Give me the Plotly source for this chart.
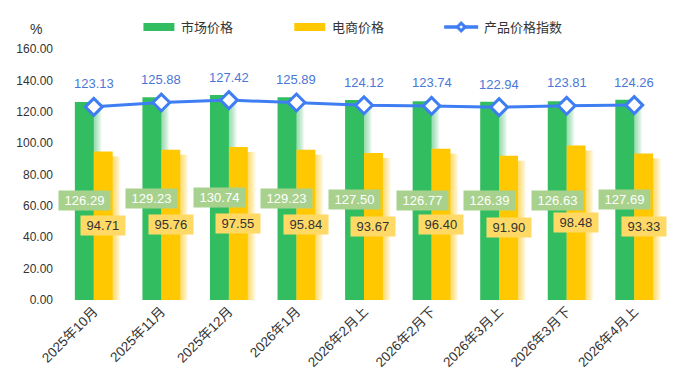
import plotly.graph_objects as go

categories = ["2025年10月", "2025年11月", "2025年12月", "2026年1月", "2026年2月上",
              "2026年2月下", "2026年3月上", "2026年3月下", "2026年4月上"]
market_price = [126.29, 129.23, 130.74, 129.23, 127.50, 126.77, 126.39, 126.63, 127.69]
ecommerce_price = [94.71, 95.76, 97.55, 95.84, 93.67, 96.40, 91.90, 98.48, 93.33]
price_index = [123.13, 125.88, 127.42, 125.89, 124.12, 123.74, 122.94, 123.81, 124.26]
y_ticks = [0, 20, 40, 60, 80, 100, 120, 140, 160]

OFF = 8  # page body margin
SW, SH = 681, 387
W, H = SW - OFF, SH - OFF
# plot area in screen pixels
PX0, PX1, PY0, PY1 = 59.5, 668, 49, 300
ML, MR, MT, MB = PX0 - OFF, SW - PX1, PY0 - OFF, SH - PY1
PW, PH = PX1 - PX0, PY1 - PY0

GREEN = "#32be60"
YELLOW = "#ffc800"
BLUE = "#3f7ef2"
FONT = "Liberation Sans, Arial, Noto Sans CJK SC, sans-serif"

x = list(range(len(categories)))
bw = 0.28
px_unit = 1.0 / (PW / len(categories))  # category units per pixel
dy = 5 * 160.0 / PH  # shadow vertical offset in data units

fig = go.Figure()

def shadow(values, base_offset, rgba):
    for k in range(1, 8):
        fig.add_trace(go.Bar(
            x=x, y=[max(v - dy, 0) for v in values], width=bw,
            offset=base_offset + k * 1.1 * px_unit,
            marker=dict(color=rgba, line=dict(width=0)),
            hoverinfo="skip", showlegend=False))

shadow(market_price, -bw, "rgba(50,190,96,0.09)")
fig.add_trace(go.Bar(x=x, y=market_price, width=bw, offset=-bw, name="市场价格",
                     marker=dict(color=GREEN, line=dict(width=0)), hoverinfo="skip"))
shadow(ecommerce_price, 0, "rgba(255,200,0,0.1)")
fig.add_trace(go.Bar(x=x, y=ecommerce_price, width=bw, offset=0, name="电商价格",
                     marker=dict(color=YELLOW, line=dict(width=0)), hoverinfo="skip"))
fig.add_trace(go.Scatter(x=x, y=price_index, mode="lines+markers", name="产品价格指数",
                         line=dict(color=BLUE, width=3),
                         marker=dict(symbol="diamond", size=13, color="white",
                                     line=dict(color=BLUE, width=3)),
                         hoverinfo="skip"))

ann = []
nb = "\u00a0"
for i in x:
    ann.append(dict(x=i - bw / 2, y=market_price[i] / 2, xref="x", yref="y",
                    text=nb + f"{market_price[i]:.2f}" + nb, showarrow=False,
                    font=dict(family=FONT, size=13, color="white"),
                    bgcolor="#a8d18d", borderpad=2))
    ann.append(dict(x=i + bw / 2, y=ecommerce_price[i] / 2, xref="x", yref="y",
                    text=nb + f"{ecommerce_price[i]:.2f}" + nb, showarrow=False,
                    font=dict(family=FONT, size=13, color="#333333"),
                    bgcolor="#ffd966", borderpad=2))
    ann.append(dict(x=i, y=price_index[i], xref="x", yref="y", yshift=23,
                    text=f"{price_index[i]:.2f}", showarrow=False,
                    font=dict(family=FONT, size=13, color="#4a78d8")))

def px_x(p):
    return (p - PX0) / PW

def px_y(p):
    return (PY1 - p) / PH

# unit label
ann.append(dict(x=px_x(27.5), y=px_y(19), xref="paper", yref="paper", text="%",
                showarrow=False, font=dict(family=FONT, size=14, color="#333333")))

shapes = []
legend_items = [("市场价格", GREEN, 143, "rect"), ("电商价格", YELLOW, 294, "rect"),
                ("产品价格指数", BLUE, 444, "line")]
ly = 27
for label, col, x0, kind in legend_items:
    if kind == "rect":
        shapes.append(dict(type="rect", xref="paper", yref="paper",
                           x0=px_x(x0), x1=px_x(x0 + 31), y0=px_y(ly - 4), y1=px_y(ly + 4),
                           fillcolor=col, line=dict(width=0)))
    else:
        shapes.append(dict(type="line", xref="paper", yref="paper",
                           x0=px_x(x0), x1=px_x(x0 + 34), y0=px_y(ly), y1=px_y(ly),
                           line=dict(color=col, width=3.5)))
        cx = x0 + 17
        r = 5.5
        path = (f"M {px_x(cx)} {px_y(ly - r)} L {px_x(cx + r)} {px_y(ly)} "
                f"L {px_x(cx)} {px_y(ly + r)} L {px_x(cx - r)} {px_y(ly)} Z")
        shapes.append(dict(type="path", xref="paper", yref="paper", path=path,
                           fillcolor=col, line=dict(color=col, width=1)))
        r2 = 1.8
        path2 = (f"M {px_x(cx)} {px_y(ly - r2)} L {px_x(cx + r2)} {px_y(ly)} "
                 f"L {px_x(cx)} {px_y(ly + r2)} L {px_x(cx - r2)} {px_y(ly)} Z")
        shapes.append(dict(type="path", xref="paper", yref="paper", path=path2,
                           fillcolor="white", line=dict(width=0)))
    tx = x0 + (36 if kind == "rect" else 38)
    ann.append(dict(x=px_x(tx), y=px_y(ly), xref="paper", yref="paper", text=label,
                    xanchor="left", yanchor="middle", showarrow=False,
                    font=dict(family=FONT, size=13, color="#333333")))

fig.update_layout(
    width=W, height=H,
    margin=dict(l=ML, r=MR, t=MT, b=MB, autoexpand=False),
    barmode="overlay",
    plot_bgcolor="white", paper_bgcolor="white",
    showlegend=False,
    font=dict(family=FONT, size=12, color="#333333"),
    xaxis=dict(range=[-0.5, len(categories) - 0.5], tickvals=x, ticktext=categories,
               tickangle=-45, showgrid=False, zeroline=False, showline=False,
               tickfont=dict(family=FONT, size=13.5, color="#333333")),
    yaxis=dict(range=[0, 160], tickvals=y_ticks, tickformat=".2f", showgrid=False,
               zeroline=False, showline=False, ticklabelstandoff=6,
               tickfont=dict(family=FONT, size=12, color="#333333")),
    annotations=ann, shapes=shapes,
)

fig.write_html("out.html")
